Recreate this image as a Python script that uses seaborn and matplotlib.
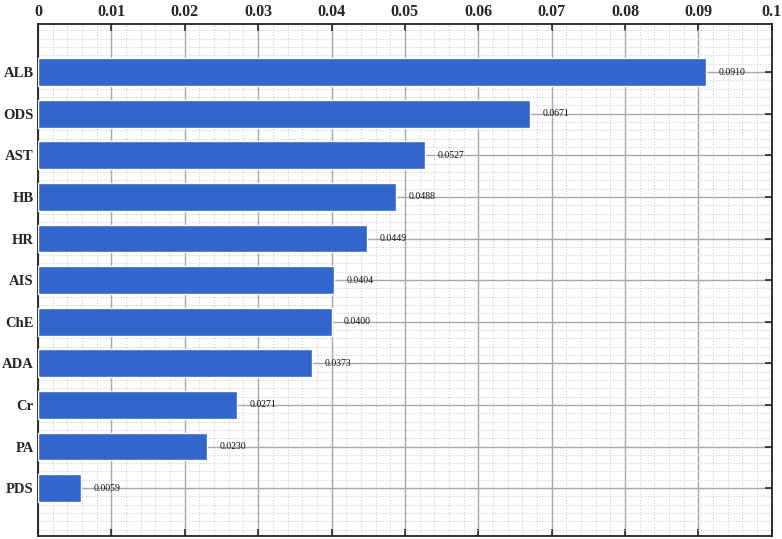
import numpy as np
import matplotlib
matplotlib.use('Agg')
import matplotlib.pyplot as plt
from matplotlib.ticker import MultipleLocator, FormatStrFormatter
import seaborn as sns

# Feature importance values
features = ['ALB', 'ODS', 'AST', 'HB', 'HR', 'AIS', 'ChE', 'ADA', 'Cr', 'PA', 'PDS']
importance = [0.0910, 0.0671, 0.0527, 0.0488, 0.0449, 0.0404, 0.0400, 0.0373, 0.0271, 0.0230, 0.0059]

sns.set_style('white')
plt.rcParams['font.family'] = ['Liberation Serif', 'DejaVu Serif']
plt.rcParams['font.weight'] = 'bold'

fig = plt.figure(figsize=(7.82, 5.39), dpi=100)
ax = fig.add_axes([0.0486, 0.0056, 0.9384, 0.9494])

sns.barplot(x=importance, y=features, orient='h', color='#3366CC', saturation=1,
            width=0.67, ax=ax, zorder=3)

# value labels next to each bar
for i, v in enumerate(importance):
    ax.text(v + 0.0017, i, '{:.4f}'.format(v), va='center', ha='left',
            fontsize=7, fontweight='normal', color='#111111', zorder=4)

ax.set_xlim(0, 0.1)
ax.set_ylim(len(features) - 1 + 1.15, -1.15)
ax.xaxis.set_major_locator(MultipleLocator(0.01))
ax.xaxis.set_minor_locator(MultipleLocator(0.002))
ax.xaxis.set_major_formatter(FormatStrFormatter('%g'))
ax.yaxis.set_minor_locator(MultipleLocator(0.2))

ax.xaxis.tick_top()
ax.tick_params(which='major', direction='in', top=True, bottom=True, left=True, right=True,
               labeltop=True, labelbottom=False, length=5, width=1.2)
ax.tick_params(which='minor', length=0)
ax.tick_params(axis='x', pad=3, labelsize=11.5)
ax.tick_params(axis='y', pad=3, labelsize=10.5)

ax.set_axisbelow(True)
ax.grid(which='major', color='#a8a8a8', linestyle='-', linewidth=1.0)
ax.grid(which='minor', color='#cfcfcf', linestyle=':', linewidth=0.8)

for s in ax.spines.values():
    s.set_visible(True)
    s.set_color('#222222')
    s.set_linewidth(1.3)

ax.set_xlabel('')
ax.set_ylabel('')

fig.savefig('out.png', dpi=100)
